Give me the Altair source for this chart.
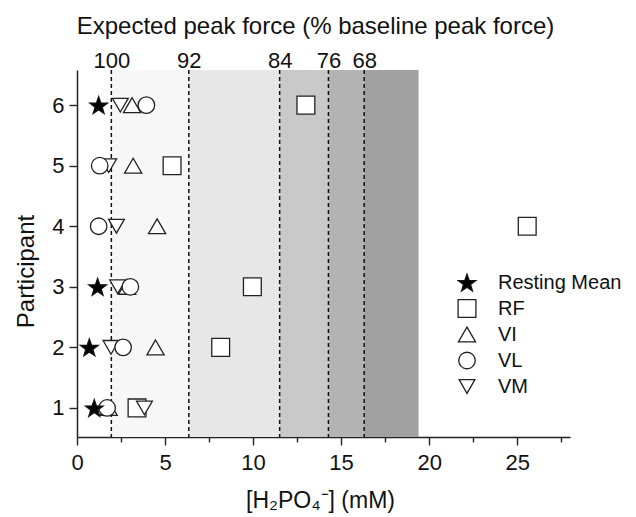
import math
import altair as alt
import pandas as pd

FONT = "Liberation Sans"

# ---- data ----
participants = [1, 2, 3, 4, 5, 6]
series_order = ["Resting Mean", "RF", "VI", "VL", "VM"]
resting_mean = [0.98, 0.70, 1.17, None, None, 1.23]
rf = [3.41, 8.16, 9.96, 25.57, 5.40, 13.00]
vi = [1.80, 4.46, 2.85, 4.55, 3.19, 3.13]
vl = [1.71, 2.62, 3.03, 1.23, 1.29, 3.94]
vm = [3.83, 1.93, 2.31, 2.24, 1.80, 2.46]

threshold_pi = [1.95, 6.35, 11.51, 14.28, 16.31]
threshold_force = ["100", "92", "84", "76", "68"]
band_names = ["b1", "b2", "b3", "b4", "b5"]
band_start = [1.95, 6.35, 11.51, 14.28, 16.31]
band_end = [6.35, 11.51, 14.28, 16.31, 19.40]

x_major_ticks = [0, 5, 10, 15, 20, 25]
x_minor_ticks = [2.5, 7.5, 12.5, 17.5, 22.5, 27.5]
y_ticks = [1, 2, 3, 4, 5, 6]

# ---- styles ----
band_colors = ["#f7f7f7", "#e7e7e7", "#c9c9c9", "#b3b3b3", "#a1a1a1"]


def star_path():
    pts = []
    for k in range(10):
        r = 1.0 if k % 2 == 0 else 0.40
        a = -math.pi / 2 + k * math.pi / 5
        pts.append(f"{r*math.cos(a):.4f},{r*math.sin(a)+0.1:.4f}")
    return "M" + " L".join(pts) + " Z"


shape_range = [star_path(), "square", "triangle-up", "circle", "triangle-down"]
fill_range = ["#000000", "#ffffff", "#ffffff", "#ffffff", "#ffffff"]
stroke_range = ["#111111", "#222222", "#222222", "#222222", "#222222"]
size_range = [340, 250, 420, 256, 400]
draw_rank = {"RF": 0, "VM": 1, "VI": 2, "VL": 3, "Resting Mean": 4}

series_values = {"Resting Mean": resting_mean, "RF": rf, "VI": vi, "VL": vl, "VM": vm}
rows = []
for name, vals in series_values.items():
    for p, v in zip(participants, vals):
        if v is not None:
            rows.append({"series": name, "participant": p, "value": v, "draw": draw_rank[name]})
pts_df = pd.DataFrame(rows).sort_values("draw")

band_df = pd.DataFrame({"band": band_names, "start": band_start, "end": band_end})
thr_df = pd.DataFrame({"x": threshold_pi, "force": threshold_force})

x_scale = alt.Scale(domain=[0, 28], nice=False, zero=False)
y_scale = alt.Scale(domain=[0.52, 6.58], nice=False, zero=False)

# shaded bands; their axis carries the minor ticks of the bottom axis
bands = alt.Chart(band_df).mark_rect().encode(
    x=alt.X(
        "start:Q",
        scale=x_scale,
        axis=alt.Axis(
            orient="bottom",
            values=x_minor_ticks,
            labels=False,
            domain=False,
            ticks=True,
            tickSize=5,
            tickColor="#222",
            tickWidth=1.4,
            grid=False,
            title=None,
        ),
    ),
    x2="end:Q",
    color=alt.Color("band:N", scale=alt.Scale(domain=band_names, range=band_colors), legend=None),
)

force_label_expr = (
    "[" + ",".join(f"'{f}'" for f in threshold_force) + "][indexof(["
    + ",".join(str(v) for v in threshold_pi) + "], datum.value)]"
)

rules = alt.Chart(thr_df).mark_rule(color="#111", strokeWidth=1.5, strokeDash=[4, 3]).encode(
    x=alt.X(
        "x:Q",
        scale=x_scale,
        axis=alt.Axis(
            orient="top",
            values=threshold_pi,
            labelExpr=force_label_expr,
            domain=False,
            ticks=False,
            tickSize=0,
            grid=False,
            labelPadding=3,
            labelFont=FONT,
            labelFontSize=22,
            labelColor="#111",
            labelBaseline="alphabetic",
            title="Expected peak force (% baseline peak force)",
            titleFont=FONT,
            titleFontSize=24,
            titleFontWeight="normal",
            titleColor="#111",
            titleX=238,
            titleY=-37,
            titleAlign="center",
            titleBaseline="alphabetic",
        ),
    )
)

legend = alt.Legend(
    title=None,
    orient="none",
    legendX=380,
    legendY=202,
    padding=0,
    labelFont=FONT,
    labelFontSize=20,
    labelColor="#111",
    labelOffset=21,
    symbolStrokeWidth=1.3,
    symbolOpacity=1,
    rowPadding=5,
    clipHeight=21,
)

points = alt.Chart(pts_df).mark_point(
    filled=True, strokeWidth=1.3, opacity=1
).encode(
    x=alt.X(
        "value:Q",
        scale=x_scale,
        axis=alt.Axis(
            orient="bottom",
            values=x_major_ticks,
            tickSize=8,
            tickColor="#222",
            tickWidth=1.4,
            domainColor="#222",
            domainWidth=1.5,
            grid=False,
            labelPadding=7,
            labelFont=FONT,
            labelFontSize=22,
            labelColor="#111",
            labelFlush=False,
            title="[H₂PO₄⁻] (mM)",
            titleFont=FONT,
            titleFontSize=23,
            titleFontWeight="normal",
            titleColor="#111",
            titleX=243,
            titleY=70,
            titleAlign="center",
            titleBaseline="alphabetic",
        ),
    ),
    y=alt.Y(
        "participant:Q",
        scale=y_scale,
        axis=alt.Axis(
            values=y_ticks,
            format="d",
            tickSize=8,
            tickColor="#222",
            tickWidth=1.4,
            domainColor="#222",
            domainWidth=1.5,
            grid=False,
            labelPadding=5,
            labelFont=FONT,
            labelFontSize=22,
            labelColor="#111",
            labelFlush=False,
            title="Participant",
            titleFont=FONT,
            titleFontSize=24,
            titleFontWeight="normal",
            titleColor="#111",
            titleX=-44,
            titleY=201,
            titleAngle=270,
            titleAlign="center",
            titleBaseline="alphabetic",
        ),
    ),
    shape=alt.Shape("series:N", scale=alt.Scale(domain=series_order, range=shape_range), legend=legend),
    fill=alt.Fill("series:N", scale=alt.Scale(domain=series_order, range=fill_range), legend=legend),
    stroke=alt.Stroke("series:N", scale=alt.Scale(domain=series_order, range=stroke_range), legend=legend),
    size=alt.Size("series:N", scale=alt.Scale(domain=series_order, range=size_range), legend=legend),
    order=alt.Order("draw:Q"),
)

chart = (
    alt.layer(bands, rules, points)
    .resolve_axis(x="independent")
    .properties(
        width=493,
        height=367,
        autosize=alt.AutoSizeParams(type="none"),
        padding={"left": 77, "top": 70, "right": 66, "bottom": 80},
        background="white",
    )
    .configure_view(stroke=None)
)

chart.save("out.html", embed_options={"renderer": "svg", "actions": False})
